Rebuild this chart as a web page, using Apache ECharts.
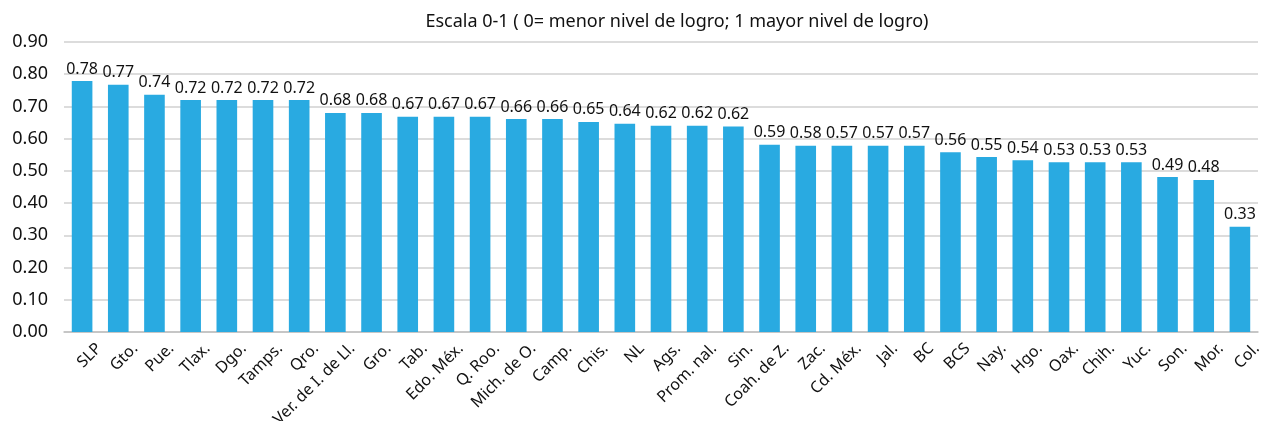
<!DOCTYPE html>
<html>
<head>
<meta charset="utf-8">
<script src="https://cdn.jsdelivr.net/npm/echarts@6/dist/echarts.min.js"></script>
<style>html,body{margin:0;padding:0;background:#fff}#c{width:1262px;height:421px}</style>
</head>
<body>
<div id="c"></div>
<script>
const titleText = 'Escala 0-1 ( 0= menor nivel de logro; 1 mayor nivel de logro)';
const categories = ['SLP','Gto.','Pue.','Tlax.','Dgo.','Tamps.','Qro.','Ver. de I. de Ll.','Gro.','Tab.','Edo. Méx.','Q. Roo.','Mich. de O.','Camp.','Chis.','NL','Ags.','Prom. nal.','Sin.','Coah. de Z.','Zac.','Cd. Méx.','Jal.','BC','BCS','Nay.','Hgo.','Oax.','Chih.','Yuc.','Son.','Mor.','Col.'];
const values = [0.779,0.767,0.736,0.720,0.720,0.720,0.720,0.680,0.680,0.668,0.668,0.668,0.661,0.661,0.652,0.646,0.640,0.640,0.638,0.581,0.578,0.578,0.578,0.578,0.558,0.543,0.533,0.527,0.527,0.527,0.481,0.472,0.327];
const valueLabels = ['0.78','0.77','0.74','0.72','0.72','0.72','0.72','0.68','0.68','0.67','0.67','0.67','0.66','0.66','0.65','0.64','0.62','0.62','0.62','0.59','0.58','0.57','0.57','0.57','0.56','0.55','0.54','0.53','0.53','0.53','0.49','0.48','0.33'];
const yMin = 0, yMax = 0.9, yStep = 0.1;

const FONT = '"Noto Sans", "Open Sans", sans-serif';
const chart = echarts.init(document.getElementById('c'), null, {renderer: 'canvas'});
chart.setOption({
  animation: false,
  backgroundColor: '#ffffff',
  title: {
    text: titleText, left: 672, top: 8, textAlign: 'center',
    textStyle: {fontFamily: FONT, fontSize: 18, fontWeight: 'normal', color: '#111111'}
  },
  grid: {left: 64, right: 4, top: 42, bottom: 89, containLabel: false, outerBoundsMode: 'none'},
  xAxis: {
    type: 'category', data: categories,
    axisTick: {show: false},
    axisLine: {lineStyle: {color: '#bfbfbf', width: 1.5}},
    axisLabel: {rotate: 45, interval: 0, fontFamily: FONT, fontSize: 16, color: '#111111',
      margin: -3, verticalAlign: 'top', lineHeight: 20, padding: [14, 0, 0, 0]}
  },
  yAxis: {
    type: 'value', min: yMin, max: yMax, interval: yStep,
    axisLine: {show: false}, axisTick: {show: false},
    splitLine: {lineStyle: {color: '#d0d0d0', width: 1.5}},
    axisLabel: {formatter: v => v.toFixed(2), fontFamily: FONT, fontSize: 18, color: '#111111', margin: 16}
  },
  series: [{
    type: 'bar', data: values, barWidth: '57%',
    itemStyle: {color: '#29aae1'},
    label: {
      show: true, position: 'top', distance: 4,
      formatter: p => valueLabels[p.dataIndex],
      fontFamily: FONT, fontSize: 16, color: '#111111'
    }
  }]
});
</script>
</body>
</html>
